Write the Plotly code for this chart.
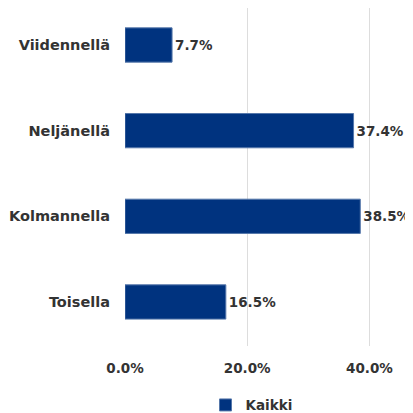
import plotly.graph_objects as go

categories = ["Toisella", "Kolmannella", "Neljänellä", "Viidennellä"]
values = [16.5, 38.5, 37.4, 7.7]
tick_vals = [0, 20, 40]
tick_labels = ["0.0%", "20.0%", "40.0%"]
series_name = "Kaikki"

FONT = dict(family="DejaVu Sans", size=13.5, color="#333333", weight="bold")
CAT_FONT = dict(family="DejaVu Sans", size=14.5, color="#333333", weight="bold")

fig = go.Figure()
fig.add_trace(go.Bar(
    y=categories, x=values, orientation="h", name=series_name,
    marker=dict(color="#00337F", line=dict(color="#5577aa", width=1)),
    width=0.4,
    text=[f"{v:.1f}%" for v in values], textposition="outside",
    textfont=FONT,
    cliponaxis=False, showlegend=True,
))
fig.update_layout(
    width=405, height=405,
    margin=dict(l=117, r=13, t=0, b=67, autoexpand=False),
    paper_bgcolor="white", plot_bgcolor="white",
    font=FONT,
    xaxis=dict(range=[0, 45], tickvals=tick_vals, ticktext=tick_labels,
               showgrid=True, gridcolor="#dddddd", gridwidth=1,
               zeroline=False, showline=False, ticks="", automargin=False,
               ticklabelstandoff=12, tickfont=FONT),
    yaxis=dict(range=[-0.514, 3.432], showgrid=False, zeroline=False,
               showline=False, ticks="", automargin=False,
               ticklabelstandoff=14, tickfont=CAT_FONT),
    legend=dict(orientation="h", x=0.46, xanchor="center", y=-0.175,
                yanchor="middle", itemwidth=30, font=FONT),
    bargap=0.6,
)
fig.write_html("out.html")
